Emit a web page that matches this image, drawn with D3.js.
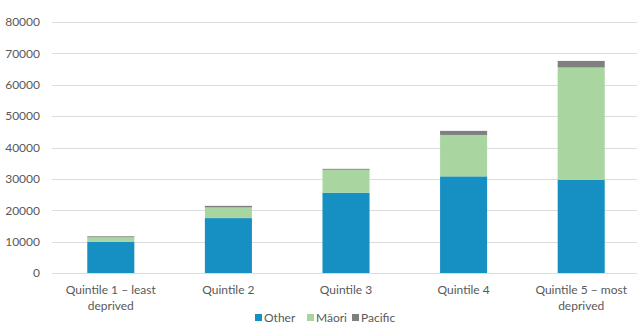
<!DOCTYPE html>
<html>
<head>
<meta charset="utf-8">
<script src="https://cdn.jsdelivr.net/npm/d3@7"></script>
<style>
  body { margin: 0; background: #fff; }
  text { font-family: Lato, "Open Sans", sans-serif; fill: #595959; }
</style>
</head>
<body>
<div id="chart"></div>
<script>
// Data
const categories = ['Quintile 1 – least deprived', 'Quintile 2', 'Quintile 3', 'Quintile 4', 'Quintile 5 – most deprived'];
const otherValues = [10000, 17500, 25600, 30800, 29700];
const maoriValues = [1400, 3400, 7300, 13200, 35800];
const pacificValues = [300, 500, 300, 1300, 2100];
const seriesNames = ['Other', 'Māori', 'Pacific'];
const seriesColors = ['#168fc2', '#a8d5a0', '#7f7f7f'];
const yTicks = [0, 10000, 20000, 30000, 40000, 50000, 60000, 70000, 80000];

const width = 637;
const height = 325;

const rows = categories.map((c, i) => ({
    category: c,
    Other: otherValues[i],
    'Māori': maoriValues[i],
    Pacific: pacificValues[i]
}));

const svg = d3.select('#chart')
    .append('svg')
    .attr('width', width)
    .attr('height', height);

const x = d3.scaleBand()
    .domain(categories)
    .range([52, 640])
    .paddingInner(0.6)
    .paddingOuter(0.3);

const y = d3.scaleLinear()
    .domain([0, 80000])
    .range([273, 22]);

// Gridlines
svg.append('g')
    .selectAll('line')
    .data(yTicks)
    .enter()
    .append('line')
    .attr('x1', 52)
    .attr('x2', 637)
    .attr('y1', d => Math.round(y(d)) + 0.5)
    .attr('y2', d => Math.round(y(d)) + 0.5)
    .attr('stroke', '#d9dde0')
    .attr('stroke-width', 1);

// Y axis labels
const yAxis = svg.append('g')
    .attr('transform', 'translate(45,0)')
    .call(d3.axisLeft(y).tickValues(yTicks).tickSize(0).tickPadding(5).tickFormat(d3.format('d')));
yAxis.select('.domain').remove();
yAxis.selectAll('text')
    .style('font-size', '12px')
    .style('font-family', 'Lato, "Open Sans", sans-serif')
    .attr('fill', '#595959');

// Stacked bars
const stack = d3.stack().keys(seriesNames);
const layers = stack(rows);

svg.append('g')
    .selectAll('g')
    .data(layers)
    .enter()
    .append('g')
    .attr('fill', (d, i) => seriesColors[i])
    .selectAll('rect')
    .data(d => d)
    .enter()
    .append('rect')
    .attr('x', d => x(d.data.category))
    .attr('width', x.bandwidth())
    .attr('y', d => y(d[1]))
    .attr('height', d => y(d[0]) - y(d[1]));

// X axis labels (wrapped)
const xLabels = svg.append('g');
categories.forEach(c => {
    const parts = c.includes(' – ')
        ? [c.slice(0, c.lastIndexOf(' ')), c.slice(c.lastIndexOf(' ') + 1)]
        : [c];
    const t = xLabels.append('text')
        .attr('x', x(c) + x.bandwidth() / 2)
        .attr('y', 294)
        .attr('text-anchor', 'middle')
        .style('font-size', '12px');
    parts.forEach((p, i) => {
        t.append('tspan')
            .attr('x', x(c) + x.bandwidth() / 2)
            .attr('dy', i === 0 ? 0 : 15.5)
            .text(p);
    });
});

// Legend
const legendX = [255, 307, 352];
const legend = svg.append('g');
seriesNames.forEach((name, i) => {
    legend.append('rect')
        .attr('x', legendX[i])
        .attr('y', 314)
        .attr('width', 7)
        .attr('height', 7)
        .attr('fill', seriesColors[i]);
    legend.append('text')
        .attr('x', legendX[i] + 9)
        .attr('y', 322)
        .style('font-size', '12px')
        .text(name);
});
</script>
</body>
</html>
